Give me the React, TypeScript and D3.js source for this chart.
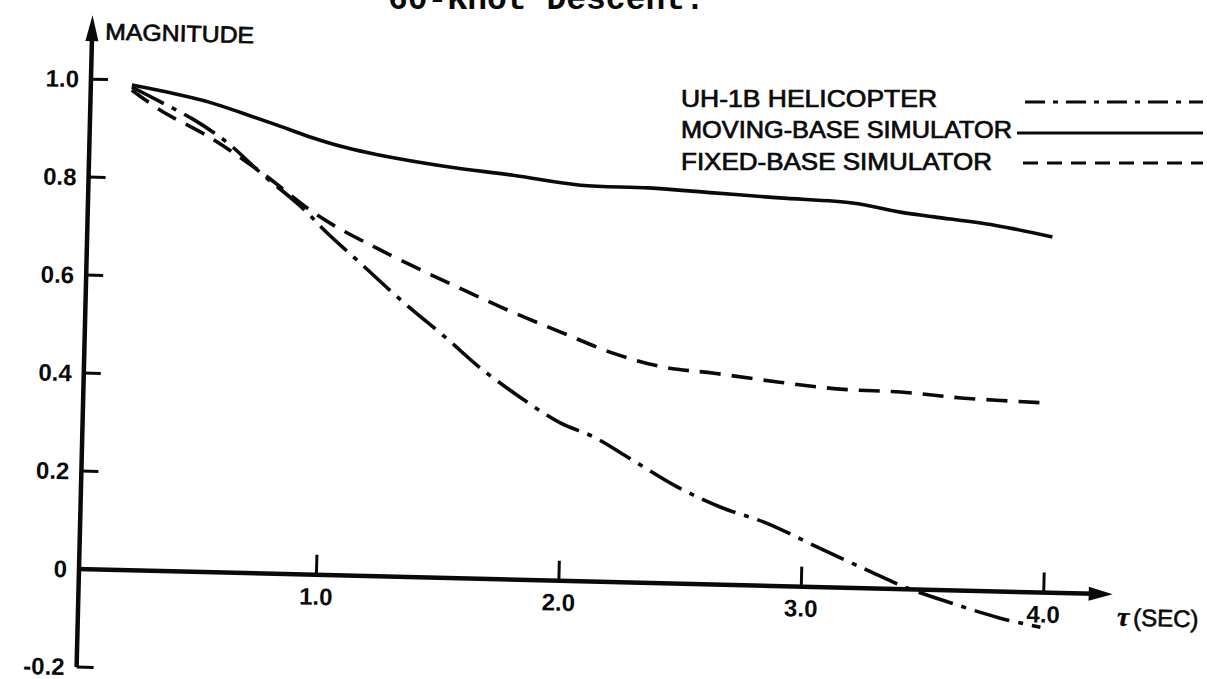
import React from "react";
import * as d3 from "d3";

// Time lag (sec) and magnitude for each record
const uh1bTime = [0.19, 0.31, 0.45, 0.59, 0.73, 0.9, 1.01, 1.15, 1.32, 1.52, 1.65, 1.82, 1.99, 2.13, 2.27, 2.48, 2.66, 2.85, 3.06, 3.27, 3.44, 3.62, 3.82, 3.99];
const uh1bMag = [0.986, 0.957, 0.922, 0.877, 0.817, 0.75, 0.698, 0.638, 0.565, 0.486, 0.432, 0.373, 0.322, 0.295, 0.256, 0.197, 0.158, 0.128, 0.082, 0.037, 0.002, -0.026, -0.054, -0.071];

const movingTime = [0.19, 0.35, 0.51, 0.65, 0.79, 0.93, 1.07, 1.21, 1.5, 1.77, 2.05, 2.33, 2.6, 2.87, 3.18, 3.37, 3.51, 3.76, 4.0];
const movingMag = [0.99, 0.976, 0.959, 0.938, 0.916, 0.893, 0.874, 0.86, 0.839, 0.825, 0.808, 0.806, 0.799, 0.792, 0.785, 0.769, 0.761, 0.747, 0.726];

const fixedTime = [0.19, 0.31, 0.52, 0.73, 0.98, 1.23, 1.58, 1.79, 1.99, 2.2, 2.41, 2.62, 2.89, 3.14, 3.39, 3.64, 3.98];
const fixedMag = [0.98, 0.94, 0.886, 0.819, 0.73, 0.666, 0.588, 0.544, 0.506, 0.467, 0.441, 0.431, 0.416, 0.405, 0.402, 0.393, 0.387];

const xTicks = [1, 2, 3, 4];
const xTickLabels = ["1.0", "2.0", "3.0", "4.0"];
const yTicks = [1.0, 0.8, 0.6, 0.4, 0.2, 0, -0.2];
const yTickLabels = ["1.0", "0.8", "0.6", "0.4", "0.2", "0", "-0.2"];

const legendNames = ["UH-1B HELICOPTER", "MOVING-BASE SIMULATOR", "FIXED-BASE SIMULATOR"];

const W = 1207;
const H = 679;
const AXIS_X = 79;
const TILT = 1.4;
const INK = "#0a0a0a";
const FONT = "'Liberation Sans', Arial, sans-serif";

const x = d3.scaleLinear().domain([0, 4]).range([74, 1044]);
const y = d3.scaleLinear().domain([-0.2, 1.0]).range([667, 79]);

const line = d3
  .line<[number, number]>()
  .x((d) => x(d[0]))
  .y((d) => y(d[1]))
  .curve(d3.curveCatmullRom.alpha(0.5));

const zip = (a: number[], b: number[]) => a.map((t, i) => [t, b[i]] as [number, number]);

const series = [
  { name: legendNames[0], pts: zip(uh1bTime, uh1bMag), dash: "36 9 5 9", legendDash: "20 8 5 8" },
  { name: legendNames[1], pts: zip(movingTime, movingMag), dash: "none", legendDash: "none" },
  { name: legendNames[2], pts: zip(fixedTime, fixedMag), dash: "21 11", legendDash: "15 9" },
];

const legendLayout = [
  { base: 107, len: 256, ly: 102, lx: 1025 },
  { base: 138, len: 331, ly: 133, lx: 1017 },
  { base: 170, len: 311, ly: 163, lx: 1023 },
];

export default function App() {
  const y0 = y(0);
  const xEnd = 1113;
  const yTop = 15;
  return (
    <svg width={W} height={H} style={{ display: "block", position: "absolute", left: 0, top: 0, background: "#fff" }}>
      <rect width={W} height={H} fill="#fff" />
      {/* caption line running off the top edge */}
      <text x={388} y={9} fontFamily="'Liberation Mono', 'DejaVu Sans Mono', monospace" fontWeight="bold" fontSize={33} fill={INK}>
        60-Knot Descent.
      </text>

      <g transform={`rotate(${TILT}, ${AXIS_X}, ${y0})`}>
        {/* y axis */}
        <line x1={AXIS_X} x2={AXIS_X} y1={y(-0.2)} y2={yTop + 20} stroke={INK} strokeWidth={4.5} />
        <path d={`M${AXIS_X},${yTop} L${AXIS_X - 6.5},${yTop + 26} L${AXIS_X + 6.5},${yTop + 26} Z`} fill={INK} />
        {/* x axis */}
        <line x1={AXIS_X - 2} x2={xEnd - 18} y1={y0} y2={y0} stroke={INK} strokeWidth={4.5} />
        <path d={`M${xEnd},${y0} L${xEnd - 24},${y0 - 7} L${xEnd - 24},${y0 + 7} Z`} fill={INK} />

        {yTicks.map((v, i) => (
          <g key={"yt" + i}>
            {v !== 0 && (
              <line x1={AXIS_X} x2={AXIS_X + 17} y1={y(v)} y2={y(v)} stroke={INK} strokeWidth={3} />
            )}
            <text x={67} y={y(v) + 8.5} textAnchor="end" fontFamily={FONT} fontWeight="bold" fontSize={24} fill={INK}>
              {yTickLabels[i]}
            </text>
          </g>
        ))}

        {xTicks.map((t, i) => (
          <g key={"xt" + i}>
            <line x1={x(t)} x2={x(t)} y1={y0} y2={y0 - 20} stroke={INK} strokeWidth={3} />
            <text x={x(t)} y={y0 + 30} textAnchor="middle" fontFamily={FONT} fontWeight="bold" fontSize={24} fill={INK}>
              {xTickLabels[i]}
            </text>
          </g>
        ))}

        <text x={92} y={39} fontFamily={FONT} fontSize={23} fill={INK} stroke={INK} strokeWidth={0.7} textLength={149} lengthAdjust="spacingAndGlyphs">
          MAGNITUDE
        </text>
        <text x={1118} y={y0 + 31} fontFamily={FONT} fontSize={24} fill={INK} stroke={INK} strokeWidth={0.6}>
          <tspan fontFamily="'Liberation Serif', serif" fontStyle="italic" fontWeight="bold" fontSize={27}>τ</tspan>
          <tspan dx={4}>(SEC)</tspan>
        </text>

        {series.map((s, i) => (
          <path
            key={"s" + i}
            d={line(s.pts) || ""}
            fill="none"
            stroke={INK}
            strokeWidth={3.6}
            strokeDasharray={s.dash}
            strokeLinejoin="round"
          />
        ))}
      </g>

      {/* legend */}
      {series.map((s, i) => {
        const L = legendLayout[i];
        return (
          <g key={"lg" + i}>
            <text x={681} y={L.base} fontFamily={FONT} fontSize={23} fill={INK} stroke={INK} strokeWidth={0.7} textLength={L.len} lengthAdjust="spacingAndGlyphs">
              {s.name}
            </text>
            <line x1={L.lx} x2={1203} y1={L.ly} y2={L.ly} stroke={INK} strokeWidth={2.8} strokeDasharray={s.legendDash} />
          </g>
        );
      })}
    </svg>
  );
}
